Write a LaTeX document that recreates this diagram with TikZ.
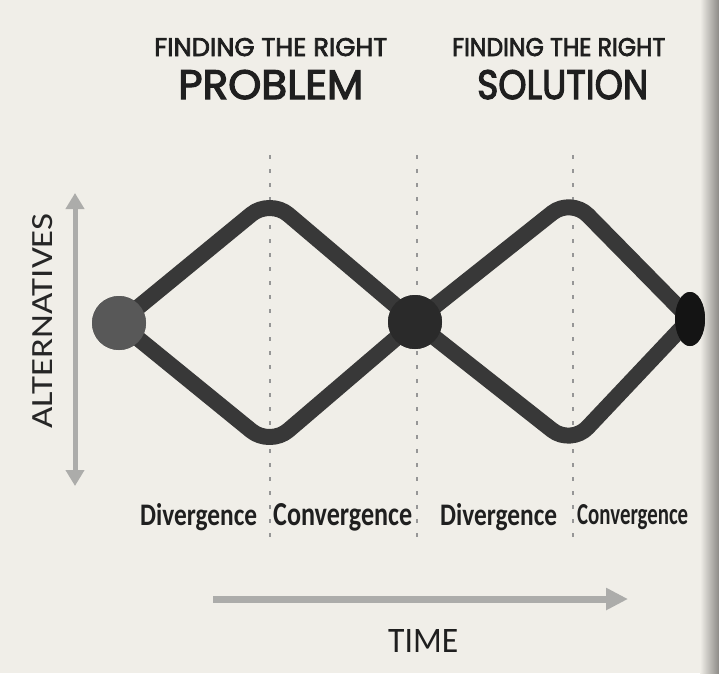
\documentclass[tikz,border=0pt]{standalone}
\usepackage{fontspec}
\setmainfont{Carlito}
\newfontfamily\titlefont{Poppins}[FakeBold=3]
\usetikzlibrary{arrows.meta,shapes.geometric}
\definecolor{pagebg}{RGB}{240,238,232}
\definecolor{pageedge}{RGB}{140,138,134}
\definecolor{diamcol}{RGB}{56,56,56}
\definecolor{dotcol}{RGB}{150,150,150}
\definecolor{axiscol}{RGB}{172,172,170}
\definecolor{nodeA}{RGB}{88,88,88}
\definecolor{nodeB}{RGB}{42,42,42}
\definecolor{nodeC}{RGB}{20,20,20}
\tikzset{
  diam/.style={draw=diamcol, line width=16pt, rounded corners=24pt, line join=round},
  dotline/.style={draw=dotcol, line width=1.6pt, dash pattern=on 4pt off 10pt},
  axisarrow/.style={draw=axiscol, line width=#1},
  dot/.style={circle, fill=#1, inner sep=0pt, minimum size=54pt},
  enddot/.style={ellipse, fill=nodeC, inner sep=0pt, minimum width=30pt, minimum height=54pt},
  lbl/.style={inner sep=0pt, anchor=base west, text=black!88},
}
\begin{document}
\begin{tikzpicture}[x=1pt,y=-1pt]
\useasboundingbox (0,0) rectangle (719,673);
\fill[pagebg] (0,0) rectangle (719,673);
\shade[left color=pagebg, right color=pageedge] (700,0) rectangle (719,673);

% dotted separators
\coordinate (s1t) at (270,155); \coordinate (s1b) at (270,542);
\coordinate (s2t) at (417,155); \coordinate (s2b) at (417,542);
\coordinate (s3t) at (573,155); \coordinate (s3b) at (573,542);
\draw[dotline] (s1t) -- (s1b);
\draw[dotline] (s2t) -- (s2b);
\draw[dotline] (s3t) -- (s3b);

% nodes of the double diamond
\node[dot=nodeA] (n1) at (119,323) {};
\node[dot=nodeB] (n2) at (415,322) {};
\node[enddot] (n3) at (690,319) {};
\coordinate (t1) at (270,199);
\coordinate (b1) at (270,446);
\coordinate (t2) at (571,198);
\coordinate (b2) at (571,445);

\draw[diam] (n1.center) -- (t1) -- (n2.center);
\draw[diam] (n1.center) -- (b1) -- (n2.center);
\draw[diam] (n2.center) -- (t2) -- (n3.center);
\draw[diam] (n2.center) -- (b2) -- (n3.center);

\node[dot=nodeA] at (n1) {};
\node[dot=nodeB] at (n2) {};
\node[enddot] at (n3) {};

% axes
\coordinate (a1t) at (75,193); \coordinate (a1b) at (75,486);
\draw[axisarrow=5pt, {Triangle[width=18pt,length=16pt]}-{Triangle[width=18pt,length=16pt]}] (a1t) -- (a1b);
\coordinate (a2l) at (213,599); \coordinate (a2r) at (628,599);
\draw[axisarrow=7pt, -{Triangle[width=21pt,length=22pt]}] (a2l) -- (a2r);

% titles
\node[lbl] (ft1) at (154,56) {\resizebox{233pt}{18pt}{\titlefont FINDING THE RIGHT}};
\node[lbl] (pr) at (178,99) {\resizebox{185pt}{29pt}{\titlefont PROBLEM}};
\node[lbl] (ft2) at (452,56) {\resizebox{213pt}{18pt}{\titlefont FINDING THE RIGHT}};
\node[lbl] (so) at (477,99) {\resizebox{171pt}{29pt}{\titlefont SOLUTION}};

% phase labels
\node[lbl] (d1) at (140,525) {\resizebox{117pt}{22pt}{\bfseries Divergence}};
\node[lbl] (c1) at (273,525) {\resizebox{139pt}{22pt}{\bfseries Convergence}};
\node[lbl] (d2) at (440,525) {\resizebox{117pt}{22pt}{\bfseries Divergence}};
\node[lbl] (c2) at (577,524) {\resizebox{111pt}{20pt}{\bfseries Convergence}};

% axis labels
\node[inner sep=0pt, rotate=90, text=black!85] (alt) at (43,321) {\resizebox{215pt}{20pt}{ALTERNATIVES}};
\node[lbl] (time) at (388,652) {\resizebox{70pt}{23pt}{TIME}};
\end{tikzpicture}
\end{document}
